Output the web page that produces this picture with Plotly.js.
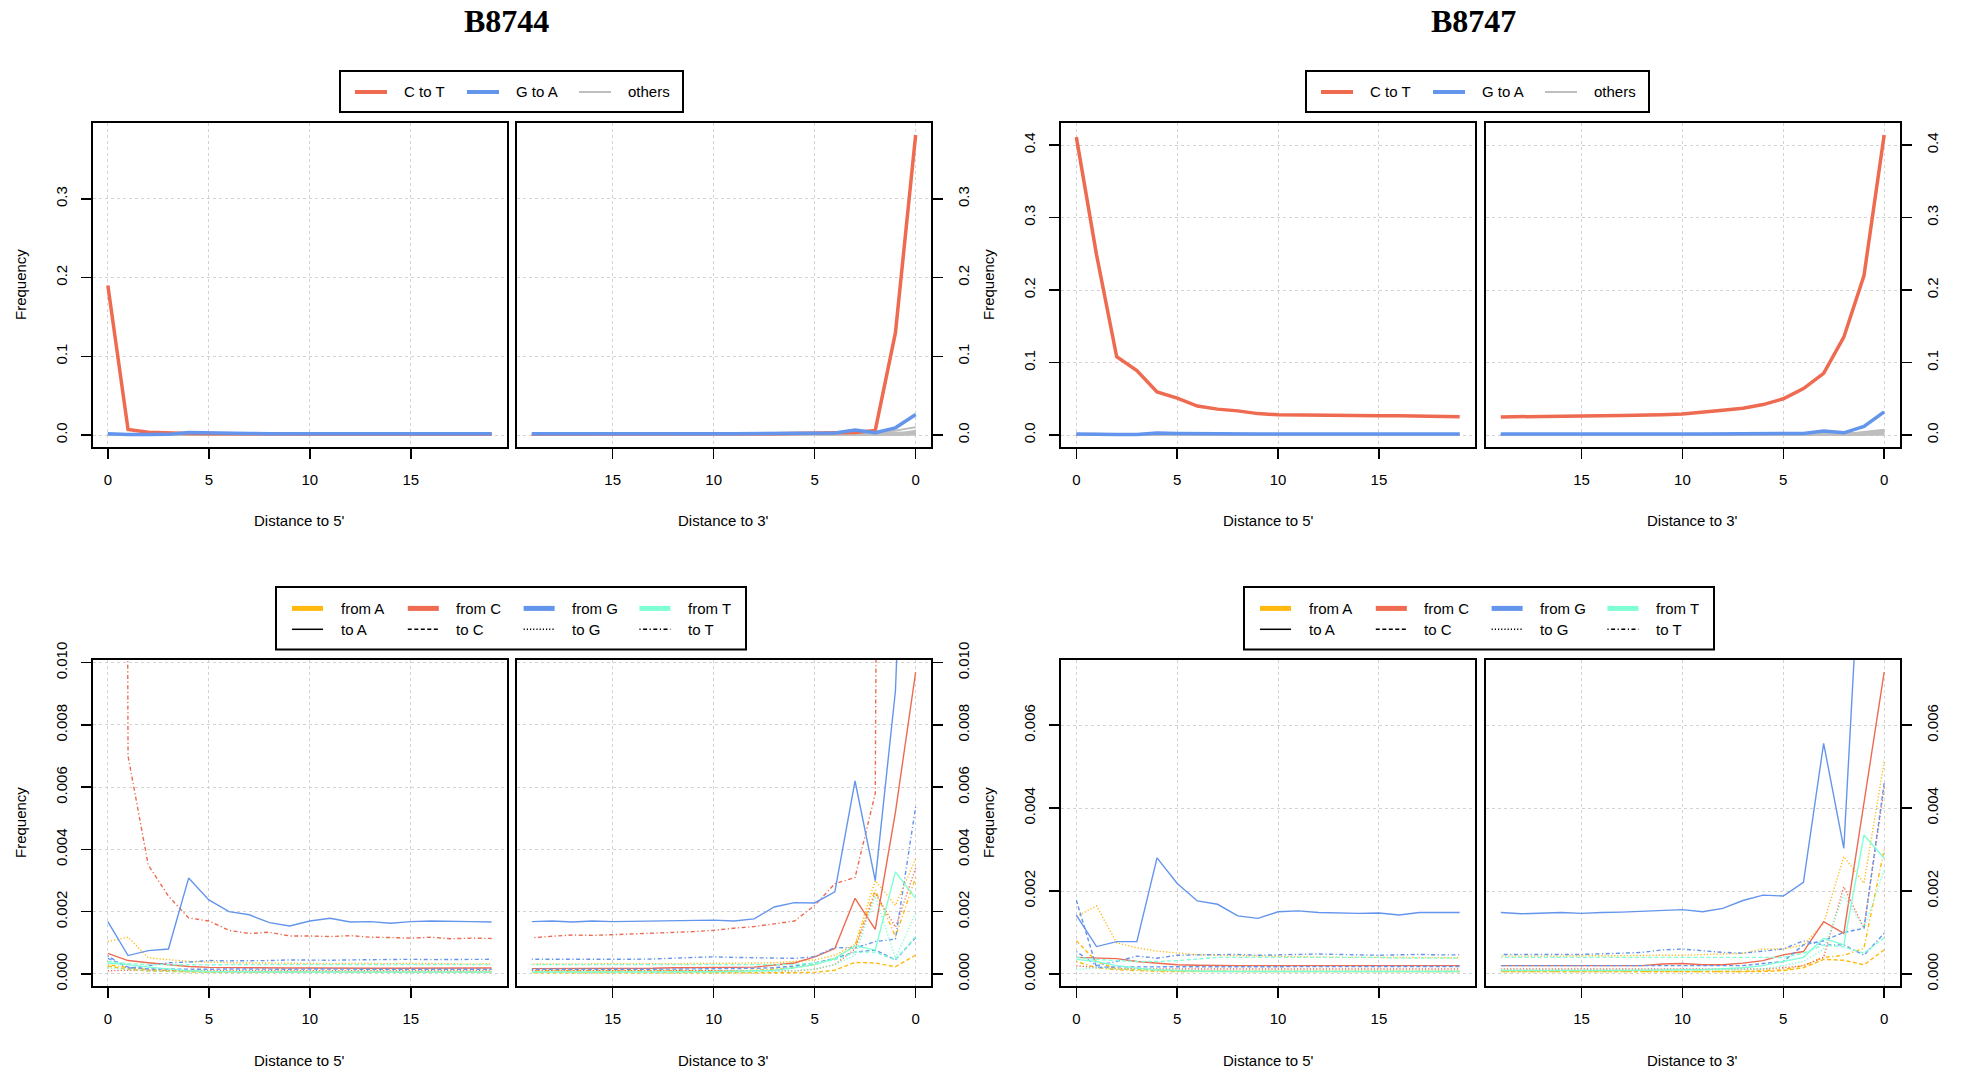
<!DOCTYPE html>
<html>
<head>
<meta charset="utf-8">
<script src="https://cdn.plot.ly/plotly-3.0.1.min.js"></script>
<style>html,body{margin:0;padding:0;background:#fff;}#chart{width:1961px;height:1072px;}</style>
</head>
<body>
<div id="chart"></div>
<script>
// ---------------- DATA ----------------
const samples = ["B8744", "B8747"];
const positions = [0,1,2,3,4,5,6,7,8,9,10,11,12,13,14,15,16,17,18,19];
const xTicks = [0, 5, 10, 15];
const substitutions = ["AtoC","AtoG","AtoT","CtoA","CtoG","CtoT","GtoA","GtoC","GtoT","TtoA","TtoC","TtoG"];

// B8744, distance to 5'
const b8744_5p_AtoC = [0.00025,0.00015,0.0001,0.00008,0.00006,0.00005,0.00005,0.00005,0.00005,0.00005,0.00005,0.00005,0.00005,0.00005,0.00005,0.00005,0.00005,0.00005,0.00005,0.00005];
const b8744_5p_AtoG = [0.00104,0.00118,0.00052,0.00045,0.0004,0.00038,0.00036,0.00035,0.00035,0.00034,0.00034,0.00033,0.00034,0.00033,0.00033,0.00034,0.00033,0.00033,0.00032,0.00033];
const b8744_5p_AtoT = [0.0003,0.0002,0.00014,0.0001,0.00008,0.00007,0.00006,0.00006,0.00006,0.00006,0.00006,0.00006,0.00006,0.00006,0.00006,0.00006,0.00006,0.00006,0.00006,0.00006];
const b8744_5p_CtoA = [0.00066,0.00043,0.00036,0.00029,0.00024,0.00021,0.0002,0.0002,0.00019,0.00019,0.00019,0.00018,0.00019,0.00018,0.00018,0.00018,0.00019,0.00018,0.00018,0.00019];
const b8744_5p_CtoG = [0.0001,0.00012,0.00011,0.0001,0.0001,0.0001,0.0001,0.0001,0.0001,0.0001,0.0001,0.0001,0.0001,0.0001,0.0001,0.0001,0.0001,0.0001,0.0001,0.0001];
const b8744_5p_CtoT = [0.190,0.0070,0.0035,0.0025,0.0018,0.0017,0.0014,0.0013,0.00134,0.00122,0.00122,0.0012,0.00123,0.00118,0.00117,0.00115,0.00118,0.00113,0.00115,0.00114];
const b8744_5p_GtoA = [0.00168,0.00059,0.00075,0.0008,0.00308,0.00238,0.002,0.0019,0.00165,0.00154,0.0017,0.00179,0.00167,0.00168,0.00163,0.00168,0.0017,0.00168,0.00168,0.00167];
const b8744_5p_GtoC = [0.0005,0.00022,0.00016,0.00015,0.00015,0.00015,0.00016,0.00015,0.00015,0.00015,0.00016,0.00015,0.00015,0.00015,0.00015,0.00015,0.00015,0.00015,0.00015,0.00015];
const b8744_5p_GtoT = [0.00058,0.00018,0.00026,0.00036,0.00038,0.00043,0.00042,0.00042,0.00043,0.00045,0.00044,0.00044,0.00045,0.00046,0.00047,0.00047,0.00046,0.00046,0.00046,0.00047];
const b8744_5p_TtoA = [0.00035,0.0003,0.00022,0.00015,0.0001,0.00008,0.00007,0.00007,0.00007,0.00006,0.00006,0.00006,0.00006,0.00006,0.00006,0.00006,0.00006,0.00006,0.00006,0.00006];
const b8744_5p_TtoC = [0.0004,0.00033,0.0003,0.00029,0.00029,0.00029,0.0003,0.0003,0.0003,0.0003,0.00031,0.0003,0.0003,0.0003,0.0003,0.0003,0.0003,0.00029,0.0003,0.0003];
const b8744_5p_TtoG = [0.0002,0.00015,0.0001,0.00008,0.00006,0.00005,0.00005,0.00005,0.00005,0.00005,0.00005,0.00005,0.00005,0.00005,0.00005,0.00005,0.00005,0.00005,0.00005,0.00005];

// B8744, distance to 3'
const b8744_3p_AtoC = [0.0006,0.00023,0.00035,0.00037,0.00012,0.00005,0.00004,0.00004,0.00004,0.00004,0.00004,0.00004,0.00004,0.00004,0.00004,0.00004,0.00004,0.00004,0.00004,0.00004];
const b8744_3p_AtoG = [0.0037,0.0022,0.003,0.00095,0.0006,0.00045,0.0004,0.00036,0.00035,0.00034,0.00034,0.00033,0.00033,0.00033,0.00033,0.00032,0.00033,0.00033,0.00032,0.00032];
const b8744_3p_AtoT = [0.0031,0.0012,0.0027,0.0009,0.0005,0.0003,0.0002,0.00015,0.00012,0.0001,0.0001,0.0001,0.0001,0.0001,0.0001,0.0001,0.0001,0.0001,0.0001,0.0001];
const b8744_3p_CtoA = [0.0097,0.0052,0.00143,0.00243,0.00082,0.00055,0.00035,0.00028,0.00022,0.00021,0.00021,0.0002,0.0002,0.00018,0.00018,0.00017,0.00018,0.00017,0.00017,0.00017];
const b8744_3p_CtoG = [0.0034,0.0015,0.0026,0.0008,0.0003,0.00015,0.0001,0.0001,0.0001,0.0001,0.0001,0.0001,0.0001,0.0001,0.0001,0.0001,0.0001,0.0001,0.0001,0.0001];
const b8744_3p_CtoT = [0.381,0.130,0.0058,0.0031,0.0029,0.0022,0.0017,0.0016,0.00152,0.00147,0.0014,0.00136,0.00133,0.00131,0.00129,0.00126,0.00124,0.00125,0.00121,0.00116];
const b8744_3p_GtoA = [0.026,0.0091,0.003,0.0062,0.00264,0.00228,0.00229,0.00215,0.00177,0.0017,0.00173,0.00172,0.00173,0.00172,0.0017,0.00168,0.0017,0.00167,0.0017,0.00168];
const b8744_3p_GtoC = [0.00117,0.00045,0.00077,0.0007,0.0005,0.00035,0.00025,0.0002,0.00018,0.00017,0.00016,0.00016,0.00016,0.00015,0.00015,0.00015,0.00015,0.00015,0.00015,0.00015];
const b8744_3p_GtoT = [0.00537,0.00112,0.00104,0.00083,0.00085,0.00055,0.0005,0.0005,0.00052,0.00053,0.00055,0.00053,0.0005,0.00048,0.00047,0.00048,0.00047,0.00047,0.00048,0.00047];
const b8744_3p_TtoA = [0.00243,0.00328,0.00077,0.0009,0.0005,0.0003,0.0002,0.00012,0.0001,0.00008,0.00007,0.00007,0.00006,0.00006,0.00006,0.00006,0.00006,0.00006,0.00006,0.00006];
const b8744_3p_TtoC = [0.0012,0.00045,0.0007,0.0007,0.00045,0.00035,0.0003,0.0003,0.0003,0.0003,0.0003,0.0003,0.0003,0.0003,0.0003,0.0003,0.0003,0.0003,0.0003,0.0003];
const b8744_3p_TtoG = [0.00195,0.0005,0.0025,0.0006,0.0003,0.00015,0.0001,0.00008,0.00006,0.00006,0.00006,0.00006,0.00006,0.00006,0.00006,0.00006,0.00006,0.00006,0.00006,0.00006];

// B8747, distance to 5'
const b8747_5p_AtoC = [0.0008,0.0003,0.00012,0.0001,0.00008,0.00007,0.00007,0.00006,0.00006,0.00006,0.00006,0.00006,0.00006,0.00006,0.00006,0.00006,0.00006,0.00006,0.00006,0.00006];
const b8747_5p_AtoG = [0.00138,0.00164,0.00075,0.00063,0.00055,0.0005,0.00046,0.00045,0.00044,0.00043,0.00042,0.00041,0.00041,0.0004,0.0004,0.0004,0.00039,0.00039,0.00039,0.00039];
const b8747_5p_AtoT = [0.0003,0.00015,0.0001,0.00008,0.00006,0.00006,0.00006,0.00006,0.00006,0.00006,0.00006,0.00006,0.00006,0.00006,0.00006,0.00006,0.00006,0.00006,0.00006,0.00006];
const b8747_5p_CtoA = [0.0004,0.00038,0.00037,0.0003,0.00026,0.00022,0.00021,0.0002,0.0002,0.0002,0.0002,0.0002,0.0002,0.0002,0.0002,0.0002,0.0002,0.0002,0.0002,0.0002];
const b8747_5p_CtoG = [0.0002,0.00015,0.00013,0.00012,0.00012,0.00012,0.00012,0.00012,0.00012,0.00012,0.00012,0.00012,0.00012,0.00012,0.00012,0.00012,0.00012,0.00012,0.00012,0.00012];
const b8747_5p_CtoT = [0.411,0.249,0.108,0.089,0.0595,0.051,0.040,0.0357,0.0333,0.0295,0.028,0.0275,0.0272,0.027,0.0268,0.0266,0.0265,0.0263,0.0258,0.0252];
const b8747_5p_GtoA = [0.00142,0.00066,0.00078,0.00078,0.0028,0.00218,0.00176,0.00168,0.0014,0.00134,0.0015,0.00152,0.00148,0.00147,0.00146,0.00147,0.00142,0.00148,0.00148,0.00148];
const b8747_5p_GtoC = [0.00178,0.00016,0.00017,0.00017,0.00017,0.00018,0.00018,0.00018,0.00018,0.00018,0.00018,0.00018,0.00018,0.00018,0.00018,0.00018,0.00018,0.00018,0.00018,0.00018];
const b8747_5p_GtoT = [0.00054,0.0002,0.0003,0.00043,0.00038,0.00045,0.00046,0.00046,0.00047,0.00045,0.00046,0.00047,0.00048,0.00047,0.00046,0.00045,0.00046,0.00047,0.00046,0.00046];
const b8747_5p_TtoA = [0.00035,0.0003,0.0002,0.00014,0.0001,0.00008,0.00007,0.00006,0.00006,0.00006,0.00006,0.00006,0.00006,0.00006,0.00006,0.00006,0.00006,0.00006,0.00006,0.00006];
const b8747_5p_TtoC = [0.0004,0.00035,0.00032,0.0003,0.0003,0.00032,0.00036,0.0004,0.0004,0.0004,0.0004,0.0004,0.0004,0.0004,0.0004,0.0004,0.00038,0.00038,0.00038,0.00038];
const b8747_5p_TtoG = [0.0001,0.00015,0.00012,0.0001,0.00008,0.00007,0.00007,0.00007,0.00007,0.00007,0.00007,0.00007,0.00007,0.00007,0.00007,0.00007,0.00007,0.00007,0.00007,0.00007];

// B8747, distance to 3'
const b8747_3p_AtoC = [0.00058,0.00022,0.00033,0.00035,0.00015,0.00008,0.00006,0.00006,0.00006,0.00006,0.00006,0.00006,0.00006,0.00006,0.00006,0.00006,0.00006,0.00006,0.00006,0.00006];
const b8747_3p_AtoG = [0.00512,0.00219,0.00283,0.00122,0.0007,0.0006,0.0006,0.0005,0.00048,0.00046,0.00045,0.00045,0.00044,0.00044,0.00044,0.00043,0.00043,0.00043,0.00043,0.00043];
const b8747_3p_AtoT = [0.003,0.00062,0.00045,0.0004,0.0002,0.0001,0.00008,0.00006,0.00006,0.00006,0.00006,0.00006,0.00006,0.00006,0.00006,0.00006,0.00006,0.00006,0.00006,0.00006];
const b8747_3p_CtoA = [0.00728,0.0041,0.00098,0.00126,0.00054,0.00046,0.00032,0.00026,0.00022,0.00022,0.00025,0.00024,0.0002,0.0002,0.0002,0.0002,0.0002,0.0002,0.0002,0.0002];
const b8747_3p_CtoG = [0.0045,0.0011,0.0021,0.0004,0.0002,0.00015,0.00012,0.00012,0.00012,0.00012,0.00012,0.00012,0.00012,0.00012,0.00012,0.00012,0.00012,0.00012,0.00012,0.00012];
const b8747_3p_CtoT = [0.414,0.220,0.135,0.085,0.064,0.050,0.042,0.037,0.034,0.031,0.029,0.028,0.027,0.027,0.0265,0.026,0.026,0.026,0.0255,0.025];
const b8747_3p_GtoA = [0.032,0.012,0.00303,0.00556,0.00221,0.00188,0.0019,0.00177,0.00158,0.0015,0.00155,0.00153,0.0015,0.00149,0.00148,0.00146,0.00148,0.00147,0.00145,0.00148];
const b8747_3p_GtoC = [0.0046,0.0011,0.001,0.0008,0.0007,0.0003,0.00025,0.0002,0.0002,0.0002,0.0002,0.0002,0.0002,0.0002,0.0002,0.0002,0.0002,0.0002,0.0002,0.0002];
const b8747_3p_GtoT = [0.00098,0.00045,0.0007,0.0007,0.0008,0.0006,0.00055,0.0005,0.00052,0.00056,0.0006,0.00058,0.00052,0.0005,0.00048,0.00047,0.00047,0.00047,0.00047,0.00047];
const b8747_3p_TtoA = [0.00279,0.00335,0.0007,0.00086,0.0004,0.0003,0.0002,0.00015,0.00012,0.0001,0.0001,0.00009,0.00008,0.00008,0.00008,0.00008,0.00008,0.00008,0.00008,0.00008];
const b8747_3p_TtoC = [0.00087,0.0005,0.00065,0.0007,0.0005,0.0004,0.0004,0.0004,0.0004,0.0004,0.0004,0.0004,0.0004,0.0004,0.0004,0.0004,0.0004,0.0004,0.0004,0.0004];
const b8747_3p_TtoG = [0.0025,0.0011,0.0019,0.0006,0.0003,0.0002,0.00012,0.0001,0.0001,0.0001,0.0001,0.0001,0.0001,0.0001,0.0001,0.0001,0.0001,0.0001,0.0001,0.0001];

// ---------------- BUILD ----------------
const DATA = {
  B8744: {
    "5p": {AtoC:b8744_5p_AtoC,AtoG:b8744_5p_AtoG,AtoT:b8744_5p_AtoT,CtoA:b8744_5p_CtoA,CtoG:b8744_5p_CtoG,CtoT:b8744_5p_CtoT,GtoA:b8744_5p_GtoA,GtoC:b8744_5p_GtoC,GtoT:b8744_5p_GtoT,TtoA:b8744_5p_TtoA,TtoC:b8744_5p_TtoC,TtoG:b8744_5p_TtoG},
    "3p": {AtoC:b8744_3p_AtoC,AtoG:b8744_3p_AtoG,AtoT:b8744_3p_AtoT,CtoA:b8744_3p_CtoA,CtoG:b8744_3p_CtoG,CtoT:b8744_3p_CtoT,GtoA:b8744_3p_GtoA,GtoC:b8744_3p_GtoC,GtoT:b8744_3p_GtoT,TtoA:b8744_3p_TtoA,TtoC:b8744_3p_TtoC,TtoG:b8744_3p_TtoG}
  },
  B8747: {
    "5p": {AtoC:b8747_5p_AtoC,AtoG:b8747_5p_AtoG,AtoT:b8747_5p_AtoT,CtoA:b8747_5p_CtoA,CtoG:b8747_5p_CtoG,CtoT:b8747_5p_CtoT,GtoA:b8747_5p_GtoA,GtoC:b8747_5p_GtoC,GtoT:b8747_5p_GtoT,TtoA:b8747_5p_TtoA,TtoC:b8747_5p_TtoC,TtoG:b8747_5p_TtoG},
    "3p": {AtoC:b8747_3p_AtoC,AtoG:b8747_3p_AtoG,AtoT:b8747_3p_AtoT,CtoA:b8747_3p_CtoA,CtoG:b8747_3p_CtoG,CtoT:b8747_3p_CtoT,GtoA:b8747_3p_GtoA,GtoC:b8747_3p_GtoC,GtoT:b8747_3p_GtoT,TtoA:b8747_3p_TtoA,TtoC:b8747_3p_TtoC,TtoG:b8747_3p_TtoG}
  }
};

const W = 1961, H = 1072;
const fx = v => v / W;
const fy = v => 1 - v / H;

const COL = {A:"#FFB90F", C:"#EE6A50", G:"#6495ED", T:"#7FFFD4"};
const GREY = "#BEBEBE";
const DASH = {A:"solid", C:"4px,2.5px", G:"1.2px,2px", T:"1.2px,2.5px,4px,2.5px"};
const FONT = "Liberation Sans, Arial, Helvetica, sans-serif";

// panel pixel geometry
const colX = {
  B8744: {"5p":[92.5,507], "3p":[516.5,931]},
  B8747: {"5p":[1061,1475], "3p":[1485.5,1899.5]}
};
const rowY = {top:[123,447], bottom:[660,986]};

const traces = [];
const layout = {
  width: W, height: H,
  margin: {l:0, r:0, t:0, b:0},
  paper_bgcolor: "#fff", plot_bgcolor: "#fff",
  showlegend: false,
  shapes: [], annotations: []
};

function maxOf(sample, keys) {
  let m = 0;
  ["5p","3p"].forEach(e => keys.forEach(k => DATA[sample][e][k].forEach(v => { if (v > m) m = v; })));
  return m;
}

let ax = 0;
samples.forEach(sample => {
  ["top","bottom"].forEach(row => {
    const keys = row === "top" ? substitutions : substitutions.filter(k => k !== "CtoT" && k !== "GtoA");
    const ymax = maxOf(sample, keys);
    const yr = [-0.04*ymax, 1.04*ymax];
    const dt = row === "top" ? 0.1 : 0.002;
    const fmt = row === "top" ? ".1f" : ".3f";
    ["5p","3p"].forEach(end => {
      ax += 1;
      const xs = ax === 1 ? "" : String(ax);
      const xname = "x" + xs, yname = "y" + xs;
      const [x0, x1] = colX[sample][end];
      const [y0, y1] = rowY[row];
      layout["xaxis" + xs] = {
        domain: [fx(x0), fx(x1)], anchor: yname,
        range: end === "5p" ? [-0.76, 19.76] : [19.76, -0.76],
        tickvals: xTicks, ticktext: xTicks.map(String),
        ticks: "outside", ticklen: 10, tickwidth: 1.5, tickcolor: "#000",
        showline: true, linecolor: "#000", linewidth: 2, mirror: true,
        showgrid: true, gridcolor: "#D3D3D3", griddash: "dot", gridwidth: 1,
        zeroline: false, ticklabelstandoff: 8,
        tickfont: {family: FONT, size: 15, color: "#000"}, fixedrange: true
      };
      layout["yaxis" + xs] = {
        domain: [fy(y1), fy(y0)], anchor: xname,
        side: end === "5p" ? "left" : "right",
        range: yr, tick0: 0, dtick: dt, tickformat: fmt, tickangle: -90,
        ticks: "outside", ticklen: 10, tickwidth: 1.5, tickcolor: "#000",
        showline: true, linecolor: "#000", linewidth: 2, mirror: true,
        showgrid: true, gridcolor: "#D3D3D3", griddash: "dot", gridwidth: 1,
        zeroline: false, ticklabelstandoff: 8,
        tickfont: {family: FONT, size: 15, color: "#000"}, fixedrange: true
      };
      const series = DATA[sample][end];
      if (row === "top") {
        substitutions.filter(k => k !== "CtoT" && k !== "GtoA").forEach(k => {
          traces.push({type:"scatter", mode:"lines", x: positions, y: series[k], xaxis: xname, yaxis: yname,
            name: k, line: {color: GREY, width: 2}, hoverinfo: "skip"});
        });
        traces.push({type:"scatter", mode:"lines", x: positions, y: series.CtoT, xaxis: xname, yaxis: yname,
          name: "C to T", line: {color: COL.C, width: 3.5}});
        traces.push({type:"scatter", mode:"lines", x: positions, y: series.GtoA, xaxis: xname, yaxis: yname,
          name: "G to A", line: {color: COL.G, width: 3.5}});
      } else {
        substitutions.forEach(k => {
          const from = k[0], to = k[3];
          traces.push({type:"scatter", mode:"lines", x: positions, y: series[k], xaxis: xname, yaxis: yname,
            name: k, line: {color: COL[from], width: 1.4, dash: DASH[to]}});
        });
      }
      // x axis title
      layout.annotations.push({xref:"paper", yref:"paper", x: fx((x0+x1)/2), y: fy(row === "top" ? 520 : 1060),
        text: end === "5p" ? "Distance to 5'" : "Distance to 3'", showarrow:false,
        xanchor:"center", yanchor:"middle", font:{family:FONT, size:15, color:"#000"}});
    });
  });
});

// Frequency titles
const freqX = [20, 988];
freqX.forEach(xp => {
  [[123,447],[660,986]].forEach(([a,b]) => {
    layout.annotations.push({xref:"paper", yref:"paper", x: fx(xp), y: fy((a+b)/2), text:"Frequency",
      textangle:-90, showarrow:false, xanchor:"center", yanchor:"middle",
      font:{family:FONT, size:15, color:"#000"}});
  });
});

// Sample titles
[["B8744", 507], ["B8747", 1473]].forEach(([t, xp]) => {
  layout.annotations.push({xref:"paper", yref:"paper", x: fx(xp), y: fy(21), text: t, showarrow:false,
    xanchor:"center", yanchor:"middle", font:{family:"Liberation Serif, Times New Roman, serif", size:32, weight:"bold", color:"#000"}});
});

// Legends (drawn as shapes + text)
function hline(x0, x1, y, color, width, dash) {
  layout.shapes.push({type:"line", xref:"paper", yref:"paper", x0: fx(x0), x1: fx(x1), y0: fy(y), y1: fy(y),
    line:{color, width, dash: dash || "solid"}});
}
function rect(x0, y0, x1, y1) {
  layout.shapes.push({type:"rect", xref:"paper", yref:"paper", x0: fx(x0), x1: fx(x1), y0: fy(y1), y1: fy(y0),
    line:{color:"#000", width:2}, fillcolor:"rgba(0,0,0,0)"});
}
function label(x, y, t) {
  layout.annotations.push({xref:"paper", yref:"paper", x: fx(x), y: fy(y), text: t, showarrow:false,
    xanchor:"left", yanchor:"middle", font:{family:FONT, size:15, color:"#000"}});
}
const topLegendItems = [["C to T", COL.C, 4], ["G to A", COL.G, 4], ["others", GREY, 2]];
[340, 1306].forEach(L => {
  rect(L, 71, L + 343, 112);
  topLegendItems.forEach(([t, c, w], i) => {
    const s = L + 15 + i * 112;
    hline(s, s + 32, 92, c, w);
    label(s + 47, 92, t);
  });
});
const bases = ["A","C","G","T"];
[276, 1244].forEach(L => {
  rect(L, 587, L + 470, 649.5);
  bases.forEach((b, i) => {
    const s = L + 16 + i * 115.8;
    hline(s, s + 31, 608.4, COL[b], 5);
    label(s + 46.5, 608.4, "from " + b);
    hline(s, s + 31, 629.3, "#000", 1.5, DASH[b]);
    label(s + 46.5, 629.3, "to " + b);
  });
});

Plotly.newPlot("chart", traces, layout, {staticPlot: true, displayModeBar: false});
</script>
</body>
</html>
